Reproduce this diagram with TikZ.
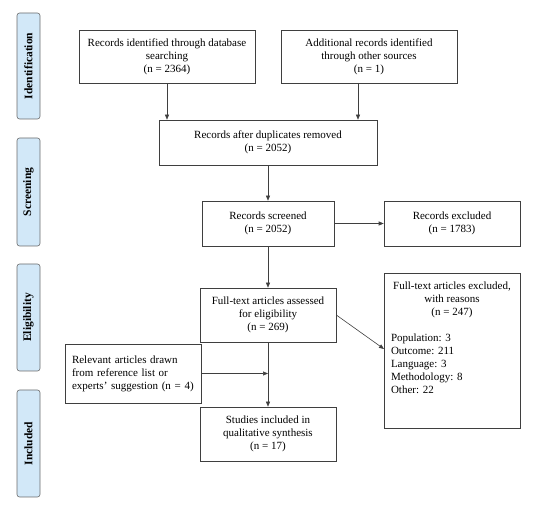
\documentclass[tikz,border=0pt]{standalone}
\usepackage{fontspec}
\setmainfont{Liberation Serif}
\usepackage{tikz}
\usetikzlibrary{arrows.meta,positioning}
\definecolor{frame}{HTML}{3F3F3F}
\definecolor{phasefill}{HTML}{D2E8F8}
\definecolor{phaseline}{HTML}{6B6B6B}
\tikzset{>={Triangle[length=5pt,width=4pt]},box/.style={draw=frame,semithick,align=center,font=\fontsize{11}{13}\selectfont,inner sep=3pt},arr/.style={->,semithick,frame},phase/.style={draw=phaseline,semithick,fill=phasefill,rounded corners=2.5pt,rotate=90,font=\fontsize{11.5}{13}\selectfont\bfseries}}
\begin{document}
\begin{tikzpicture}[x=1pt,y=-1pt]
\useasboundingbox (0,0) rectangle (550,518);
% phases
\node[phase,minimum width=106pt,minimum height=23pt] (ident) at (28.5,66) {Identification};
\node[phase,minimum width=108pt,minimum height=23pt] (screen) at (28.5,192) {Screening};
\node[phase,minimum width=107pt,minimum height=23pt] (elig) at (28.5,317.5) {Eligibility};
\node[phase,minimum width=107pt,minimum height=23pt] (incl) at (28.5,443.5) {Included};
% boxes
\node[box,minimum width=176pt,minimum height=53pt] (dbase) at (167,56.5) {Records identified through database\\searching\\(n = 2364)};
\node[box,minimum width=176pt,minimum height=53pt] (other) at (369,56.5) {Additional records identified\\through other sources\\(n = 1)};
\node[box,minimum width=218pt,minimum height=45pt] (dupl) at (268,142.5) {Records after duplicates removed\\(n = 2052)};
\node[box,minimum width=132pt,minimum height=45pt] (screened) at (268,223.5) {Records screened\\(n = 2052)};
\node[box,minimum width=136pt,minimum height=45pt] (excl) at (452,223.5) {Records excluded\\(n = 1783)};
\node[box,minimum width=136pt,minimum height=54pt] (full) at (268,315) {Full-text articles assessed\\for eligibility\\(n = 269)};
\node[box,inner xsep=7pt,inner ysep=0pt] (reasons) at (452,350.5) {\begin{minipage}[c][155pt][t]{122pt}\vspace{9pt}\centering Full-text articles excluded,\\with reasons\\(n = 247)\par\vspace{13pt}\raggedright Population: 3\\Outcome: 211\\Language: 3\\Methodology: 8\\Other: 22\end{minipage}};
\node[box,align=left,inner xsep=7pt,minimum width=136pt,minimum height=59pt,text width=122pt] (extra) at (133,373.5) {Relevant articles drawn\\from reference list or\\experts' suggestion (n = 4)};
\node[box,minimum width=136pt,minimum height=54pt] (studies) at (268,434) {Studies included in\\qualitative synthesis\\(n = 17)};
\coordinate (join) at (full.south |- extra.east);
\coordinate (dropb) at (358,83);
\coordinate (hit) at (384,349);
% arrows
\draw[arr] (dbase.south) -- (dbase.south |- dupl.north);
\draw[arr] (dropb) -- (dropb |- dupl.north);
\draw[arr] (dupl) -- (screened);
\draw[arr] (screened) -- (excl);
\draw[arr] (screened) -- (full);
\draw[arr] (full) -- (studies);
\draw[arr] (extra.east) -- (join);
\draw[arr] (full.east) -- (hit);
\end{tikzpicture}
\end{document}
